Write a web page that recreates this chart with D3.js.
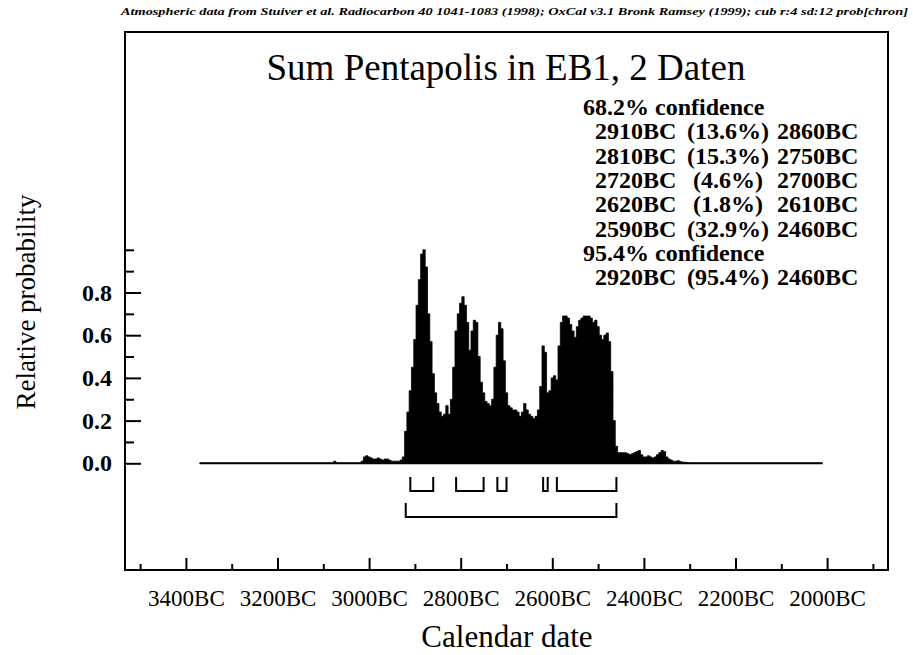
<!DOCTYPE html>
<html>
<head>
<meta charset="utf-8">
<script src="https://cdn.jsdelivr.net/npm/d3@7"></script>
<style>
  html, body { margin: 0; padding: 0; background: #fff; }
  svg { display: block; }
</style>
</head>
<body>
<svg id="chart" width="913" height="655"></svg>
<script>
// ---------------- data ----------------
const headerText = "Atmospheric data from Stuiver et al. Radiocarbon 40 1041-1083 (1998); OxCal v3.1 Bronk Ramsey (1999); cub r:4 sd:12 prob[chron]";
const titleText = "Sum Pentapolis in EB1, 2 Daten";
const xTitle = "Calendar date";
const yTitle = "Relative probability";

// calendar years BC (descending) and relative probability
const probYears = [3370, 3080, 3075, 3070, 3020, 3015, 3010, 3005, 3000, 2995, 2990, 2985, 2980, 2975, 2970, 2965, 2960, 2955, 2950, 2945, 2940, 2935, 2930,
  2925, 2920, 2915, 2910, 2905, 2900, 2895, 2890, 2885, 2880, 2875, 2870, 2865, 2860, 2855, 2850, 2845, 2840, 2835, 2830, 2825, 2820, 2815, 2810, 2805, 2800,
  2795, 2790, 2785, 2780, 2775, 2770, 2765, 2760, 2755, 2750, 2745, 2740, 2735, 2730, 2725, 2720, 2715, 2710, 2705, 2700, 2695, 2690, 2685, 2680, 2675,
  2670, 2665, 2660, 2655, 2650, 2645, 2640, 2635, 2630, 2625, 2620, 2615, 2610, 2605, 2600, 2595, 2590, 2585, 2580, 2575, 2570, 2565, 2560, 2555, 2550,
  2545, 2540, 2535, 2530, 2525, 2520, 2515, 2510, 2505, 2500, 2495, 2490, 2485, 2480, 2475, 2470, 2465, 2460, 2455, 2450, 2445, 2440, 2435, 2430, 2425,
  2420, 2415, 2410, 2405, 2400, 2395, 2390, 2385, 2380, 2375, 2370, 2365, 2360, 2355, 2350, 2345, 2340, 2335, 2330, 2325, 2320, 2315, 2310, 2305, 2300, 2010];
const probValues = [0, 0, 0.01, 0, 0, 0.01, 0.03, 0.035, 0.03, 0.025, 0.02, 0.02, 0.025, 0.02, 0.015, 0.02, 0.02, 0.015, 0.01, 0.01, 0.01, 0.01, 0.015,
  0.03, 0.15, 0.24, 0.34, 0.45, 0.58, 0.74, 0.86, 0.98, 1.0, 0.92, 0.70, 0.57, 0.42, 0.33, 0.28, 0.24, 0.22, 0.23, 0.27, 0.23, 0.30, 0.45, 0.62, 0.70, 0.75,
  0.78, 0.74, 0.66, 0.53, 0.62, 0.67, 0.66, 0.50, 0.38, 0.33, 0.29, 0.28, 0.27, 0.30, 0.45, 0.60, 0.66, 0.63, 0.48, 0.33, 0.27, 0.26, 0.25, 0.25, 0.24,
  0.22, 0.24, 0.28, 0.25, 0.23, 0.22, 0.21, 0.22, 0.25, 0.36, 0.55, 0.52, 0.33, 0.34, 0.40, 0.41, 0.39, 0.55, 0.66, 0.69, 0.69, 0.68, 0.65, 0.62, 0.59,
  0.64, 0.67, 0.68, 0.69, 0.69, 0.69, 0.68, 0.66, 0.67, 0.64, 0.60, 0.58, 0.60, 0.61, 0.57, 0.43, 0.20, 0.08, 0.05, 0.05, 0.05, 0.05, 0.045, 0.04, 0.045,
  0.05, 0.055, 0.06, 0.04, 0.03, 0.03, 0.035, 0.03, 0.025, 0.03, 0.04, 0.05, 0.06, 0.055, 0.03, 0.02, 0.015, 0.01, 0.01, 0.012, 0.008, 0.005, 0.005, 0.003, 0, 0];

// ranges: [from BC, percent, to BC]
const ranges68 = [[2910, 13.6, 2860], [2810, 15.3, 2750], [2720, 4.6, 2700], [2620, 1.8, 2610], [2590, 32.9, 2460]];
const ranges95 = [[2920, 95.4, 2460]];
const confLabels = ["68.2% confidence", "95.4% confidence"];

// axis ticks
const xMajorTicks = [3400, 3200, 3000, 2800, 2600, 2400, 2200, 2000];
const xMinorTicks = [3500, 3300, 3100, 2900, 2700, 2500, 2300, 2100, 1900];
const yMajorTicks = [0, 0.2, 0.4, 0.6, 0.8];
const yMinorTicks = [0.1, 0.3, 0.5, 0.7, 0.9, 1.0];

// ---------------- layout ----------------
const svg = d3.select("#chart");
const frame = { left: 125, right: 888, top: 32, bottom: 570 };
const x = d3.scaleLinear().domain([3533, 1867]).range([frame.left, frame.right]);
const y = d3.scaleLinear().domain([0, 1]).range([463.3, 249.8]);

const serif = "'Liberation Serif', 'Times New Roman', serif";

// header
svg.append("text")
  .attr("x", 121).attr("y", 15)
  .attr("font-family", serif).attr("font-size", 10).attr("font-weight", "bold").attr("font-style", "italic")
  .attr("textLength", 787).attr("lengthAdjust", "spacingAndGlyphs")
  .text(headerText);

// frame
svg.append("rect")
  .attr("x", frame.left).attr("y", frame.top)
  .attr("width", frame.right - frame.left).attr("height", frame.bottom - frame.top)
  .attr("fill", "none").attr("stroke", "#000").attr("stroke-width", 2);

// title
svg.append("text")
  .attr("x", 506).attr("y", 80).attr("text-anchor", "middle")
  .attr("font-family", serif).attr("font-size", 37)
  .text(titleText);

// distribution
const data = probYears.map((yr, i) => ({ yr, p: probValues[i] }));
const area = d3.area().x(d => x(d.yr)).y0(y(0)).y1(d => y(d.p)).curve(d3.curveStep);
svg.append("path").datum(data)
  .attr("d", area).attr("fill", "#000").attr("stroke", "#000").attr("stroke-width", 0.8);
const base = d3.line().x(d => x(d.yr)).y(y(0));
svg.append("path").datum([data[0], data[data.length - 1]])
  .attr("d", base).attr("stroke", "#000").attr("stroke-width", 2).attr("fill", "none");

// x axis ticks (inward) and labels
const xMaj = svg.append("g").attr("transform", `translate(0,${frame.bottom})`)
  .call(d3.axisTop(x).tickValues(xMajorTicks).tickSize(12).tickFormat(""));
const xMin = svg.append("g").attr("transform", `translate(0,${frame.bottom})`)
  .call(d3.axisTop(x).tickValues(xMinorTicks).tickSize(6).tickFormat(""));
const xLab = svg.append("g").attr("transform", `translate(0,${frame.bottom})`)
  .call(d3.axisBottom(x).tickValues(xMajorTicks).tickSize(0).tickPadding(20).tickFormat(d => d + "BC"));
[xMaj, xMin, xLab].forEach(g => { g.select(".domain").remove(); g.selectAll("line").attr("stroke-width", 2); });
xLab.selectAll("text").attr("font-family", serif).attr("font-size", 23).attr("fill", "#000").attr("dy", 0);
xLab.selectAll("text").attr("y", 36);

// y axis ticks (inward) and labels
const yMaj = svg.append("g").attr("transform", `translate(${frame.left},0)`)
  .call(d3.axisRight(y).tickValues(yMajorTicks).tickSize(16).tickFormat(""));
const yMin = svg.append("g").attr("transform", `translate(${frame.left},0)`)
  .call(d3.axisRight(y).tickValues(yMinorTicks).tickSize(9).tickFormat(""));
const yLab = svg.append("g").attr("transform", `translate(${frame.left},0)`)
  .call(d3.axisLeft(y).tickValues(yMajorTicks).tickSize(0).tickPadding(13).tickFormat(d3.format(".1f")));
[yMaj, yMin, yLab].forEach(g => { g.select(".domain").remove(); g.selectAll("line").attr("stroke-width", 2); });
yLab.selectAll("text").attr("font-family", serif).attr("font-size", 24).attr("font-weight", "bold").attr("fill", "#000");

// axis titles
svg.append("text")
  .attr("x", 507).attr("y", 647).attr("text-anchor", "middle")
  .attr("font-family", serif).attr("font-size", 31)
  .text(xTitle);
svg.append("text")
  .attr("transform", "translate(35,302) rotate(-90)").attr("text-anchor", "middle")
  .attr("font-family", serif).attr("font-size", 27)
  .text(yTitle);

// confidence text block
const lineH = 24.3, firstBase = 115;
const conf = svg.append("g").attr("font-family", serif).attr("font-size", 24).attr("font-weight", "bold");
const rows = [];
rows.push({ head: confLabels[0] });
ranges68.forEach(r => rows.push({ r }));
rows.push({ head: confLabels[1] });
ranges95.forEach(r => rows.push({ r }));
rows.forEach((row, i) => {
  const yy = firstBase + i * lineH;
  if (row.head) {
    conf.append("text").attr("x", 583).attr("y", yy).text(row.head);
  } else {
    conf.append("text").attr("x", 595).attr("y", yy).text(row.r[0] + "BC");
    conf.append("text").attr("x", 728).attr("y", yy).attr("text-anchor", "middle").text("(" + row.r[1].toFixed(1) + "%)");
    conf.append("text").attr("x", 777).attr("y", yy).text(row.r[2] + "BC");
  }
});

// range brackets
function bracket(r, top, bottom) {
  const x0 = x(r[0]), x1 = x(r[2]);
  return `M${x0},${top}V${bottom}H${x1}V${top}`;
}
svg.append("g").selectAll("path").data(ranges68).join("path")
  .attr("d", r => bracket(r, 477, 491)).attr("fill", "none").attr("stroke", "#000").attr("stroke-width", 2);
svg.append("g").selectAll("path").data(ranges95).join("path")
  .attr("d", r => bracket(r, 503, 517)).attr("fill", "none").attr("stroke", "#000").attr("stroke-width", 2);
</script>
</body>
</html>
